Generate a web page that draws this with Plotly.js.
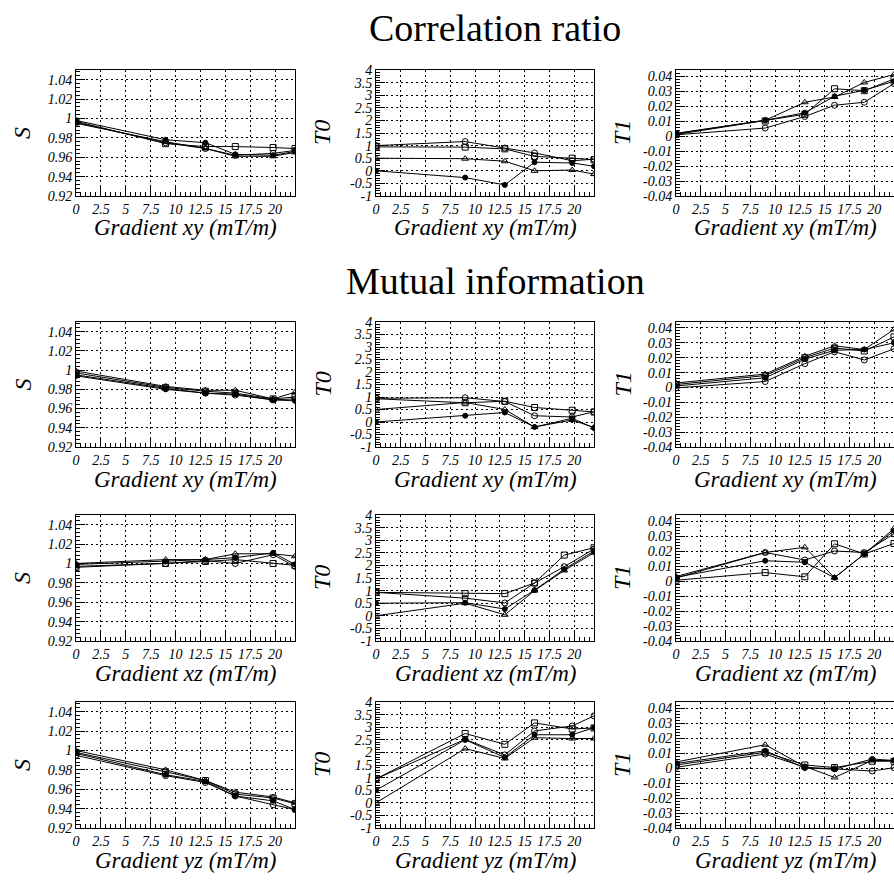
<!DOCTYPE html>
<html><head><meta charset="utf-8">
<script src="https://cdn.plot.ly/plotly-3.0.1.min.js"></script>
<style>html,body{margin:0;padding:0;background:#fff;} #chart{width:894px;height:880px;}</style>
</head><body><div id="chart"></div>
<script>
// ---------- x positions (gradient, mT/m) ----------
const X_A = [0, 9, 13, 16, 19.8, 22];
const X_B = [0, 9, 13, 16, 19, 22];

// ---------- tick labels ----------
const X_TICKS = [0, 2.5, 5, 7.5, 10, 12.5, 15, 17.5, 20];
const X_TICK_TEXT = ['0', '2.5', '5', '7.5', '10', '12.5', '15', '17.5', '20'];
const S_TICKS = [0.92, 0.94, 0.96, 0.98, 1, 1.02, 1.04];
const S_TICK_TEXT = ['0.92', '0.94', '0.96', '0.98', '1', '1.02', '1.04'];
const T0_TICKS = [-1, -0.5, 0, 0.5, 1, 1.5, 2, 2.5, 3, 3.5, 4];
const T0_TICK_TEXT = ['-1', '-0.5', '0', '0.5', '1', '1.5', '2', '2.5', '3', '3.5', '4'];
const T1_TICKS = [-0.04, -0.03, -0.02, -0.01, 0, 0.01, 0.02, 0.03, 0.04];
const T1_TICK_TEXT = ['-0.04', '-0.03', '-0.02', '-0.01', '0', '0.01', '0.02', '0.03', '0.04'];

// ---------- Correlation ratio, gradient xy ----------
const crXyS_sq  = [0.997, 0.974, 0.971, 0.971, 0.970, 0.969];
const crXyS_fc  = [0.998, 0.978, 0.975, 0.963, 0.962, 0.966];
const crXyS_oc  = [0.996, 0.975, 0.969, 0.962, 0.964, 0.967];
const crXyS_tr  = [0.995, 0.976, 0.969, 0.961, 0.961, 0.965];

const crXyT0_oc = [1.0, 1.16, 0.9, 0.71, 0.4, 0.46];
const crXyT0_sq = [0.95, 0.94, 0.87, 0.57, 0.5, 0.44];
const crXyT0_tr = [0.5, 0.48, 0.38, 0.0, 0.03, -0.13];
const crXyT0_fc = [0.0, -0.27, -0.56, 0.34, 0.31, 0.18];

const crXyT1_tr = [0.0015, 0.0105, 0.0225, 0.026, 0.0357, 0.041];
const crXyT1_sq = [0.001, 0.010, 0.0145, 0.0315, 0.0302, 0.038];
const crXyT1_fc = [0.0018, 0.0105, 0.0155, 0.0265, 0.0305, 0.0365];
const crXyT1_oc = [0.0008, 0.0053, 0.013, 0.0205, 0.0225, 0.035];

// ---------- Mutual information, gradient xy ----------
const miXyS_tr  = [0.999, 0.983, 0.979, 0.979, 0.970, 0.977];
const miXyS_sq  = [0.997, 0.982, 0.978, 0.976, 0.970, 0.972];
const miXyS_oc  = [0.995, 0.981, 0.976, 0.974, 0.969, 0.970];
const miXyS_fc  = [0.994, 0.980, 0.976, 0.975, 0.969, 0.968];

const miXyT0_sq = [0.93, 0.77, 0.83, 0.58, 0.47, 0.4];
const miXyT0_oc = [0.95, 0.97, 0.82, 0.25, 0.2, 0.41];
const miXyT0_tr = [0.5, 0.78, 0.5, -0.2, 0.08, -0.22];
const miXyT0_fc = [0.0, 0.25, 0.38, -0.2, 0.15, -0.24];

const miXyT1_tr = [0.003, 0.009, 0.021, 0.028, 0.0255, 0.039];
const miXyT1_sq = [0.002, 0.008, 0.020, 0.0265, 0.0245, 0.034];
const miXyT1_fc = [0.001, 0.0065, 0.019, 0.025, 0.0255, 0.030];
const miXyT1_oc = [-0.0003, 0.004, 0.016, 0.024, 0.0185, 0.026];

// ---------- Mutual information, gradient xz ----------
const miXzS_tr  = [1.0, 1.004, 1.004, 1.010, 1.010, 1.0075];
const miXzS_fc  = [0.999, 1.002, 1.004, 1.006, 1.011, 0.999];
const miXzS_oc  = [0.997, 1.0, 1.003, 1.000, 1.009, 0.997];
const miXzS_sq  = [0.996, 1.0, 1.002, 1.004, 1.0, 0.998];

const miXzT0_sq = [0.93, 0.88, 0.88, 1.3, 2.41, 2.7];
const miXzT0_oc = [0.93, 0.7, 0.51, 1.3, 1.95, 2.65];
const miXzT0_fc = [0.5, 0.52, 0.27, 1.02, 1.85, 2.57];
const miXzT0_tr = [0.0, 0.5, 0.04, 1.0, 1.8, 2.5];

const miXzT1_tr = [0.003, 0.019, 0.0225, 0.0022, 0.018, 0.035];
const miXzT1_fc = [0.0025, 0.0135, 0.0125, 0.0022, 0.018, 0.0335];
const miXzT1_oc = [0.002, 0.019, 0.014, 0.020, 0.019, 0.0315];
const miXzT1_sq = [0.0005, 0.0056, 0.0028, 0.0248, 0.018, 0.025];

// ---------- Mutual information, gradient yz ----------
const miYzS_tr  = [1.0, 0.980, 0.969, 0.957, 0.952, 0.946];
const miYzS_sq  = [0.998, 0.978, 0.969, 0.955, 0.951, 0.945];
const miYzS_fc  = [0.997, 0.975, 0.968, 0.953, 0.948, 0.939];
const miYzS_oc  = [0.995, 0.974, 0.967, 0.953, 0.944, 0.939];

const miYzT0_sq = [0.95, 2.75, 2.32, 3.17, 2.93, 2.97];
const miYzT0_oc = [0.95, 2.52, 1.9, 2.85, 3.05, 3.45];
const miYzT0_fc = [0.5, 2.5, 1.8, 2.7, 2.7, 2.98];
const miYzT0_tr = [0.0, 2.15, 1.76, 2.58, 2.55, 2.55];

const miYzT1_tr = [0.004, 0.0155, 0.001, -0.0063, 0.005, 0.005];
const miYzT1_fc = [0.003, 0.0115, 0.0, -0.0008, 0.006, 0.005];
const miYzT1_sq = [0.002, 0.0105, 0.002, 0.0003, 0.0045, 0.0045];
const miYzT1_oc = [0.0005, 0.0093, 0.0005, -0.0005, -0.002, 0.0002];

// ---------- panel table (built from the arrays above) ----------
const SYM = {oc: 'circle-open', sq: 'square-open', tr: 'triangle-up-open', fc: 'circle'};
const panels = [
  {r:0, c:0, kind:'S',  x:X_A, grad:'xy', s:{sq:crXyS_sq, fc:crXyS_fc, oc:crXyS_oc, tr:crXyS_tr}},
  {r:0, c:1, kind:'T0', x:X_A, grad:'xy', s:{oc:crXyT0_oc, sq:crXyT0_sq, tr:crXyT0_tr, fc:crXyT0_fc}},
  {r:0, c:2, kind:'T1', x:X_B, grad:'xy', s:{tr:crXyT1_tr, sq:crXyT1_sq, fc:crXyT1_fc, oc:crXyT1_oc}},
  {r:1, c:0, kind:'S',  x:X_A, grad:'xy', s:{tr:miXyS_tr, sq:miXyS_sq, oc:miXyS_oc, fc:miXyS_fc}},
  {r:1, c:1, kind:'T0', x:X_A, grad:'xy', s:{sq:miXyT0_sq, oc:miXyT0_oc, tr:miXyT0_tr, fc:miXyT0_fc}},
  {r:1, c:2, kind:'T1', x:X_B, grad:'xy', s:{tr:miXyT1_tr, sq:miXyT1_sq, fc:miXyT1_fc, oc:miXyT1_oc}},
  {r:2, c:0, kind:'S',  x:X_A, grad:'xz', s:{tr:miXzS_tr, fc:miXzS_fc, oc:miXzS_oc, sq:miXzS_sq}},
  {r:2, c:1, kind:'T0', x:X_B, grad:'xz', s:{sq:miXzT0_sq, oc:miXzT0_oc, fc:miXzT0_fc, tr:miXzT0_tr}},
  {r:2, c:2, kind:'T1', x:X_B, grad:'xz', s:{tr:miXzT1_tr, fc:miXzT1_fc, oc:miXzT1_oc, sq:miXzT1_sq}},
  {r:3, c:0, kind:'S',  x:X_A, grad:'yz', s:{tr:miYzS_tr, sq:miYzS_sq, fc:miYzS_fc, oc:miYzS_oc}},
  {r:3, c:1, kind:'T0', x:X_A, grad:'yz', s:{sq:miYzT0_sq, oc:miYzT0_oc, fc:miYzT0_fc, tr:miYzT0_tr}},
  {r:3, c:2, kind:'T1', x:X_A, grad:'yz', s:{tr:miYzT1_tr, fc:miYzT1_fc, sq:miYzT1_sq, oc:miYzT1_oc}}
];

const YAX = {
  S:  {range:[0.92, 1.05],   tickvals:S_TICKS,  ticktext:S_TICK_TEXT,  minor:0.004},
  T0: {range:[-1, 4],        tickvals:T0_TICKS, ticktext:T0_TICK_TEXT, minor:0.1},
  T1: {range:[-0.04, 0.044], tickvals:T1_TICKS, ticktext:T1_TICK_TEXT, minor:0.002}
};

// ---------- geometry (pixels) ----------
const W = 894, H = 880;
const colPx = [[76, 295], [376, 594], [676, 894]];
const rowPx = [[70, 196], [322, 447], [515, 641], [702, 828]];
const yTitleX = [22, 322, 622];
const FONT = 'Liberation Serif, Times New Roman, serif';

const data = [];
const layout = {
  width: W, height: H,
  margin: {l:0, r:0, t:0, b:0},
  paper_bgcolor: '#fff', plot_bgcolor: '#fff',
  showlegend: false,
  font: {family: FONT, color: '#000'},
  annotations: []
};

const tickFont = {family: FONT, size: 14, style: 'italic', color: '#000'};
const gridCommon = {showgrid:true, gridcolor:'#000', gridwidth:1, griddash:'2px,3px',
  showline:true, linecolor:'#000', linewidth:1, mirror:true, zeroline:false,
  ticks:'inside', tickcolor:'#000', tickwidth:1, tickfont:tickFont, fixedrange:true};

panels.forEach((p, i) => {
  const n = i + 1;
  const xa = 'x' + n, ya = 'y' + n;
  const xd = [colPx[p.c][0] / W, colPx[p.c][1] / W];
  const yd = [1 - rowPx[p.r][1] / H, 1 - rowPx[p.r][0] / H];
  const yc = YAX[p.kind];
  layout['xaxis' + n] = Object.assign({}, gridCommon, {
    domain: xd, anchor: ya, range: [0, 22],
    tickmode: 'array', tickvals: X_TICKS, ticktext: X_TICK_TEXT,
    ticklen: 9,
    minor: {ticks:'inside', ticklen:4, tickmode:'linear', tick0:0, dtick:0.5, tickcolor:'#000', showgrid:false}
  });
  layout['yaxis' + n] = Object.assign({}, gridCommon, {
    domain: yd, anchor: xa, range: yc.range,
    tickmode: 'array', tickvals: yc.tickvals, ticktext: yc.ticktext,
    ticklen: 9,
    minor: {ticks:'inside', ticklen:4, tickmode:'linear', tick0:0, dtick:yc.minor, tickcolor:'#000', showgrid:false}
  });
  Object.keys(p.s).forEach(k => {
    data.push({
      type: 'scatter', mode: 'lines+markers', xaxis: xa, yaxis: ya,
      x: p.x, y: p.s[k],
      line: {color:'#000', width:1},
      marker: {symbol: SYM[k], size: k === 'fc' ? 5 : 6, color:'#000', line:{color:'#000', width:1}},
      cliponaxis: true, hoverinfo: 'skip'
    });
  });
  // x title
  layout.annotations.push({
    xref:'paper', yref:'paper', showarrow:false,
    x: (colPx[p.c][0] + colPx[p.c][1]) / 2 / W,
    y: 1 - (rowPx[p.r][1] + 32) / H,
    xanchor:'center', yanchor:'middle',
    text: 'Gradient ' + p.grad + ' (mT/m)',
    font: {family: FONT, size: 23, style:'italic', color:'#000'}
  });
  // y title
  layout.annotations.push({
    xref:'paper', yref:'paper', showarrow:false,
    x: yTitleX[p.c] / W,
    y: 1 - (rowPx[p.r][0] + rowPx[p.r][1]) / 2 / H,
    xanchor:'center', yanchor:'middle', textangle:-90,
    text: p.kind,
    font: {family: FONT, size: 24, style:'italic', color:'#000'}
  });
});

// section titles
layout.annotations.push({xref:'paper', yref:'paper', showarrow:false, x:495/W, y:1-28/H,
  xanchor:'center', yanchor:'middle', text:'Correlation ratio', font:{family:FONT, size:38, color:'#000'}});
layout.annotations.push({xref:'paper', yref:'paper', showarrow:false, x:495/W, y:1-281/H,
  xanchor:'center', yanchor:'middle', text:'Mutual information', font:{family:FONT, size:38, color:'#000'}});

Plotly.newPlot('chart', data, layout, {staticPlot:true, displayModeBar:false});
</script></body></html>
